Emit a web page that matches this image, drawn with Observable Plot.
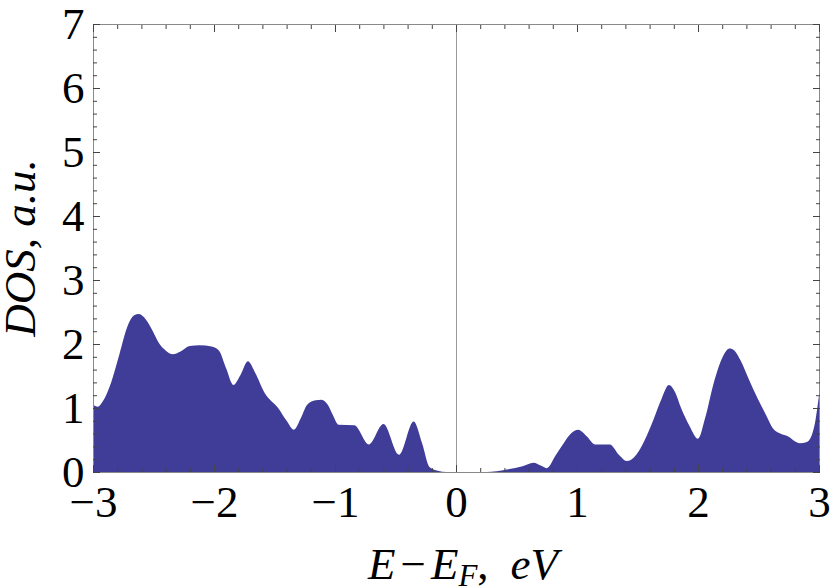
<!DOCTYPE html>
<html><head><meta charset="utf-8">
<script src="https://cdn.jsdelivr.net/npm/d3@7"></script>
<script src="https://cdn.jsdelivr.net/npm/@observablehq/plot@0.6"></script>
<style>html,body{margin:0;padding:0;background:#fff}svg{display:block}</style>
</head><body><div id="chart"></div>
<script>
// Energy relative to the Fermi level (eV)
const energy = [
  -3.00, -2.96, -2.92, -2.85, -2.78, -2.72, -2.66, -2.62, -2.58, -2.52,
  -2.45, -2.40, -2.34, -2.28, -2.20, -2.12, -2.02, -1.96, -1.90, -1.84,
  -1.78, -1.72, -1.66, -1.58, -1.47, -1.40, -1.34, -1.28, -1.23, -1.16,
  -1.11, -1.06, -1.02, -0.97, -0.84, -0.72, -0.60, -0.47, -0.35, -0.28,
  -0.22, -0.15, -0.08, 0.00, 0.25, 0.42, 0.55, 0.64, 0.70, 0.75,
  0.82, 0.89, 0.95, 1.01, 1.08, 1.15, 1.27, 1.35, 1.41, 1.49,
  1.56, 1.63, 1.70, 1.76, 1.81, 1.86, 1.93, 2.00, 2.06, 2.13,
  2.20, 2.26, 2.30, 2.35, 2.42, 2.49, 2.56, 2.62, 2.68, 2.75,
  2.80, 2.84, 2.90, 2.93, 2.97, 3.00
];
// Density of states (a.u.)
const dos = [
  1.05, 1.02, 1.10, 1.40, 1.85, 2.25, 2.45, 2.47, 2.42, 2.25,
  2.00, 1.90, 1.84, 1.88, 1.97, 1.98, 1.96, 1.90, 1.62, 1.36,
  1.52, 1.73, 1.55, 1.23, 1.00, 0.80, 0.66, 0.85, 1.05, 1.12,
  1.13, 1.05, 0.90, 0.74, 0.73, 0.43, 0.75, 0.27, 0.79, 0.45,
  0.08, 0.02, 0.00, 0.00, 0.00, 0.04, 0.09, 0.145, 0.10, 0.06,
  0.25, 0.45, 0.60, 0.66, 0.56, 0.43, 0.43, 0.26, 0.17, 0.27,
  0.50, 0.81, 1.15, 1.36, 1.25, 1.00, 0.72, 0.52, 0.85, 1.39,
  1.78, 1.93, 1.90, 1.75, 1.45, 1.16, 0.90, 0.68, 0.60, 0.55,
  0.48, 0.45, 0.47, 0.53, 0.80, 1.20
];
const xTicks = [-3, -2, -1, 0, 1, 2, 3];
const yTicks = [0, 1, 2, 3, 4, 5, 6, 7];
const fermiLevel = [0];
const xTitle = ["E", "−", "E", "F", ",", "e", "V"];
const yTitle = "DOS, a.u.";

const table = energy.map((e, i) => ({e, d: dos[i]}));
const fmt = d => d < 0 ? "\u2212" + (-d) : String(d);
const serif = "Liberation Serif, Times New Roman, serif";
const tickColor = "#444";

const chart = Plot.plot({
  width: 830, height: 588,
  marginLeft: 93, marginRight: 11, marginTop: 24, marginBottom: 116,
  style: {fontFamily: serif, fontSize: "45px", background: "white", color: "black", overflow: "visible"},
  x: {domain: [-3, 3], label: null},
  y: {domain: [0, 7], label: null},
  marks: [
    Plot.areaY(table, {x: "e", y: "d", fill: "#3f3d98", curve: "monotone-x"}),
    Plot.ruleX(fermiLevel, {stroke: "#9a9a9a", strokeWidth: 1}),
    Plot.frame({stroke: "#8a8a8a", strokeWidth: 1}),
    // minor ticks (inward)
    Plot.axisX({anchor: "bottom", ticks: 30, tickSize: -4, fill: "none", stroke: tickColor, label: null}),
    Plot.axisX({anchor: "top", ticks: 30, tickSize: -4, fill: "none", stroke: tickColor, label: null}),
    Plot.axisY({anchor: "left", ticks: 35, tickSize: -4, fill: "none", stroke: tickColor, label: null}),
    Plot.axisY({anchor: "right", ticks: 35, tickSize: -4, fill: "none", stroke: tickColor, label: null}),
    // major ticks (inward)
    Plot.axisX(xTicks, {anchor: "bottom", tickSize: -7, fill: "none", stroke: tickColor, label: null}),
    Plot.axisX(xTicks, {anchor: "top", tickSize: -7, fill: "none", stroke: tickColor, label: null}),
    Plot.axisY(yTicks, {anchor: "left", tickSize: -7, fill: "none", stroke: tickColor, label: null}),
    Plot.axisY(yTicks, {anchor: "right", tickSize: -7, fill: "none", stroke: tickColor, label: null}),
    // tick labels
    Plot.axisX(xTicks, {anchor: "bottom", tickSize: 0, tickPadding: 13, tickFormat: fmt, fill: "black", label: null}),
    Plot.axisY(yTicks, {anchor: "left", tickSize: 0, tickPadding: 9, tickFormat: fmt, fill: "black", label: null})
  ]
});
document.getElementById("chart").appendChild(chart);

const svg = d3.select(chart);
// x-axis title
const xt = svg.append("text")
  .attr("x", 368).attr("y", 579)
  .attr("text-anchor", "start")
  .attr("font-family", serif).attr("font-size", 45).attr("font-style", "italic")
  .attr("fill", "black");
xt.append("tspan").text(xTitle[0]);
xt.append("tspan").attr("font-style", "normal").attr("dx", 5).text(xTitle[1]);
xt.append("tspan").attr("dx", 5).text(xTitle[2]);
xt.append("tspan").attr("font-size", 31).attr("dy", 7).text(xTitle[3]);
xt.append("tspan").attr("font-style", "normal").attr("dy", -7).text(xTitle[4]);
xt.append("tspan").attr("dx", 22).text(xTitle[5] + xTitle[6]);

// y-axis title
svg.append("text")
  .attr("transform", "translate(35,248) rotate(-90)")
  .attr("text-anchor", "middle")
  .attr("font-family", serif).attr("font-size", 45).attr("font-style", "italic")
  .attr("fill", "black")
  .text(yTitle);
</script>
</body></html>
